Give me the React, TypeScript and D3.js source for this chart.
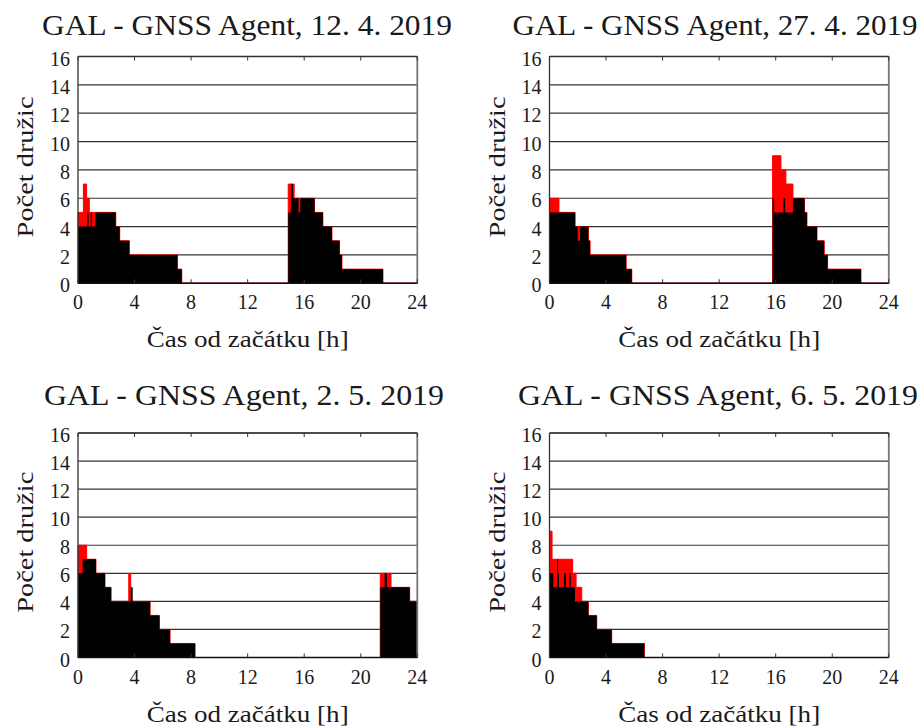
import React from "react";
import * as d3 from "d3";

// Step data: [hour, satellites] – value holds until the next breakpoint
const p1Total: [number, number][] = [[0,5],[0.38,7],[0.61,6],[0.80,5],[2.67,4],[2.95,3],[3.63,2],[7.03,1],[7.34,0],[14.87,7],[15.29,6],[16.73,5],[17.32,4],[17.96,3],[18.50,2],[18.67,1],[21.57,0],[24,0]];
const p1Used: [number, number][] = [[0,4],[0.66,5],[0.75,4],[0.90,5],[0.99,4],[1.23,5],[2.67,4],[2.95,3],[3.63,2],[7.03,1],[7.34,0],[14.87,5],[15.06,6],[15.10,7],[15.20,6],[15.60,5],[15.72,6],[16.73,5],[17.32,4],[17.96,3],[18.50,2],[18.67,1],[21.57,0],[24,0]];

const p2Total: [number, number][] = [[0,6],[0.67,5],[1.81,4],[2.75,3],[2.87,2],[5.42,1],[5.82,0],[15.78,9],[16.37,8],[16.72,7],[17.22,6],[18.04,5],[18.21,4],[18.92,3],[19.43,2],[19.67,1],[22.03,0],[24,0]];
const p2Used: [number, number][] = [[0,5],[1.81,4],[1.99,3],[2.16,4],[2.75,3],[2.87,2],[5.42,1],[5.82,0],[15.78,6],[15.89,5],[16.55,6],[16.67,5],[17.22,6],[18.04,5],[18.21,4],[18.92,3],[19.43,2],[19.67,1],[22.03,0],[24,0]];

const p3Total: [number, number][] = [[0,8],[0.61,7],[1.27,6],[1.91,5],[2.34,4],[3.59,6],[3.73,4],[5.10,3],[5.76,2],[6.51,1],[8.28,0],[21.38,6],[22.14,5],[23.46,4],[24,4]];
const p3Used: [number, number][] = [[0,6],[0.33,7],[1.27,6],[1.91,5],[2.34,4],[3.73,5],[3.87,4],[5.10,3],[5.76,2],[6.51,1],[8.28,0],[21.38,5],[21.69,6],[21.85,5],[23.46,4],[24,4]];

const p4Total: [number, number][] = [[0,9],[0.18,7],[1.64,6],[1.88,5],[2.28,4],[2.75,3],[3.34,2],[4.40,1],[6.71,0],[24,0]];
const p4Used: [number, number][] = [[0,6],[0.27,5],[0.54,7],[0.60,6],[0.67,5],[1.03,6],[1.16,5],[1.40,6],[1.50,5],[1.80,4],[2.75,3],[3.34,2],[4.40,1],[6.71,0],[24,0]];

const titles = ["GAL - GNSS Agent, 12. 4. 2019", "GAL - GNSS Agent, 27. 4. 2019", "GAL - GNSS Agent, 2. 5. 2019", "GAL - GNSS Agent, 6. 5. 2019"];
const xTicks = [0, 4, 8, 12, 16, 20, 24];
const yTicks = [0, 2, 4, 6, 8, 10, 12, 14, 16];
const xLabel = "Čas od začátku [h]";
const yLabel = "Počet družic";

const FONT = "'Liberation Serif', 'Times New Roman', serif";
const TXT = "#1a1a1a";

type PanelProps = {
  left: number; right: number; top: number; bottom: number;
  title: string; titleX: number; titleY: number; titleLen: number;
  total: [number, number][]; used: [number, number][];
};

function Panel(p: PanelProps) {
  const x = d3.scaleLinear().domain([0, 24]).range([p.left, p.right]);
  const y = d3.scaleLinear().domain([0, 16]).range([p.bottom, p.top]);
  const area = d3.area<[number, number]>()
    .x(d => x(d[0]))
    .y0(y(0))
    .y1(d => y(d[1]))
    .curve(d3.curveStepAfter);
  const cx = (p.left + p.right) / 2;
  const cy = (p.top + p.bottom) / 2;
  return (
    <g>
      <text x={p.titleX} y={p.titleY} textAnchor="middle" fontFamily={FONT} fontSize={30}
        fill={TXT} textLength={p.titleLen} lengthAdjust="spacingAndGlyphs">{p.title}</text>
      {yTicks.map(t => (
        <line key={"g" + t} x1={p.left} x2={p.right} y1={y(t)} y2={y(t)} stroke="#333" strokeWidth={1.2} />
      ))}
      <path d={area(p.total) || ""} fill="#ff0000" stroke="#ff0000" strokeWidth={1} />
      <path d={area(p.used) || ""} fill="#000" />
      {/* frame */}
      <line x1={p.left} x2={p.left} y1={p.top} y2={p.bottom} stroke="#333" strokeWidth={1.3} />
      <line x1={p.right} x2={p.right} y1={p.top} y2={p.bottom} stroke="#777" strokeWidth={1.8} />
      <line x1={p.left} x2={p.right} y1={p.top} y2={p.top} stroke="#333" strokeWidth={1.3} />
      <line x1={p.left} x2={p.right} y1={p.bottom} y2={p.bottom} stroke="#111" strokeWidth={1.5} />
      {xTicks.map(t => (
        <g key={"xt" + t}>
          <line x1={x(t)} x2={x(t)} y1={p.bottom} y2={p.bottom - 4} stroke="#333" strokeWidth={1} />
          <line x1={x(t)} x2={x(t)} y1={p.top} y2={p.top + 4} stroke="#333" strokeWidth={1} />
          <text x={x(t)} y={p.bottom + 26} textAnchor="middle" fontFamily={FONT} fontSize={20} fill={TXT}>{t}</text>
        </g>
      ))}
      {yTicks.map(t => (
        <text key={"yt" + t} x={p.left - 8} y={y(t) + 9} textAnchor="end" fontFamily={FONT} fontSize={20} fill={TXT}>{t}</text>
      ))}
      <text x={cx} y={p.bottom + 64} textAnchor="middle" fontFamily={FONT} fontSize={24} fill={TXT}
        textLength={202} lengthAdjust="spacingAndGlyphs">{xLabel}</text>
      <text transform={`translate(${p.left - 45},${cy - 3}) rotate(-90)`} textAnchor="middle" fontFamily={FONT}
        fontSize={24} fill={TXT} textLength={141} lengthAdjust="spacingAndGlyphs">{yLabel}</text>
    </g>
  );
}

export default function App() {
  return (
    <svg width={921} height={727} style={{ position: "absolute", left: 0, top: 0, background: "#fff" }}>
      <rect x={0} y={0} width={921} height={727} fill="#fff" />
      <Panel left={78} right={417.3} top={56.5} bottom={283.3} title={titles[0]} titleX={247} titleY={35} titleLen={410} total={p1Total} used={p1Used} />
      <Panel left={549.5} right={888.8} top={56.5} bottom={283.3} title={titles[1]} titleX={715} titleY={35} titleLen={405} total={p2Total} used={p2Used} />
      <Panel left={78} right={417.3} top={433} bottom={657.5} title={titles[2]} titleX={244} titleY={405} titleLen={400} total={p3Total} used={p3Used} />
      <Panel left={549.5} right={888.8} top={433} bottom={657.5} title={titles[3]} titleX={718} titleY={405} titleLen={400} total={p4Total} used={p4Used} />
    </svg>
  );
}
